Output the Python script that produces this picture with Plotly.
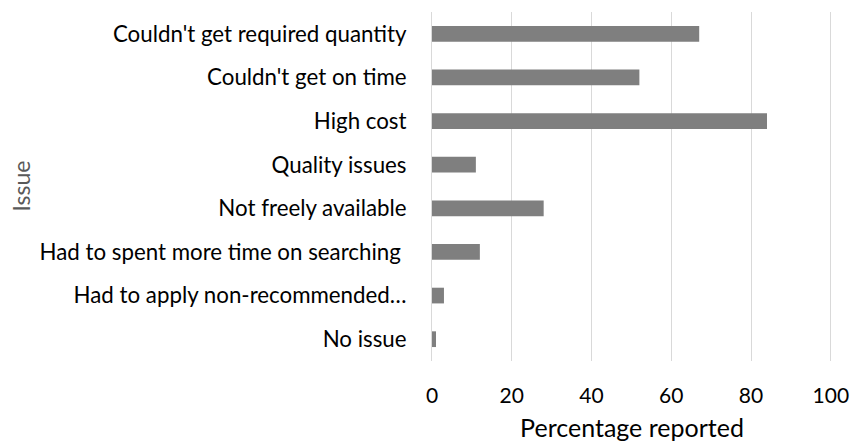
import plotly.graph_objects as go

# Issues reported, listed top to bottom as shown
issues = [
    "Couldn't get required quantity",
    "Couldn't get on time",
    "High cost",
    "Quality issues",
    "Not freely available",
    "Had to spent more time on searching\u00a0",
    "Had to apply non-recommended\u2026",
    "No issue",
]
percentages = [67, 52, 84, 11, 28, 12, 3, 1]
x_ticks = [0, 20, 40, 60, 80, 100]

FONT = "Lato"
PLOT_LEFT, PLOT_RIGHT = 432, 832

fig = go.Figure(
    go.Bar(
        x=percentages,
        y=issues,
        orientation="h",
        marker=dict(color="#7f7f7f", line=dict(width=0)),
        width=0.36,
    )
)

fig.update_layout(
    width=851,
    height=444,
    margin=dict(l=PLOT_LEFT, r=851 - PLOT_RIGHT, t=12, b=83),
    paper_bgcolor="white",
    plot_bgcolor="white",
    showlegend=False,
    font=dict(family=FONT, color="#000000"),
)

fig.update_xaxes(
    range=[0, 100.3],
    automargin=False,
    tickvals=x_ticks,
    ticktext=[str(v) for v in x_ticks],
    tickfont=dict(size=21, color="#000000"),
    showgrid=True,
    gridcolor="#d9d9d9",
    gridwidth=1,
    zeroline=False,
    showline=False,
    ticks="",
    ticklabelstandoff=20,
    title=dict(text="Percentage reported", font=dict(size=25, color="#000000"), standoff=13),
)

fig.update_yaxes(
    categoryorder="array",
    categoryarray=list(reversed(issues)),
    autorange=True,
    automargin=False,
    tickfont=dict(size=22.3, color="#000000"),
    showgrid=False,
    zeroline=False,
    showline=True,
    linecolor="#d9d9d9",
    linewidth=1,
    ticks="",
    ticklabelstandoff=20,
)

# Vertical axis title placed in the left margin
fig.add_annotation(
    text="Issue",
    textangle=-90,
    xref="paper",
    yref="paper",
    x=(20 - PLOT_LEFT) / (PLOT_RIGHT - PLOT_LEFT),
    y=0.5,
    xanchor="center",
    yanchor="middle",
    showarrow=False,
    font=dict(family=FONT, size=23, color="#595959"),
)

fig.write_html("out.html")
